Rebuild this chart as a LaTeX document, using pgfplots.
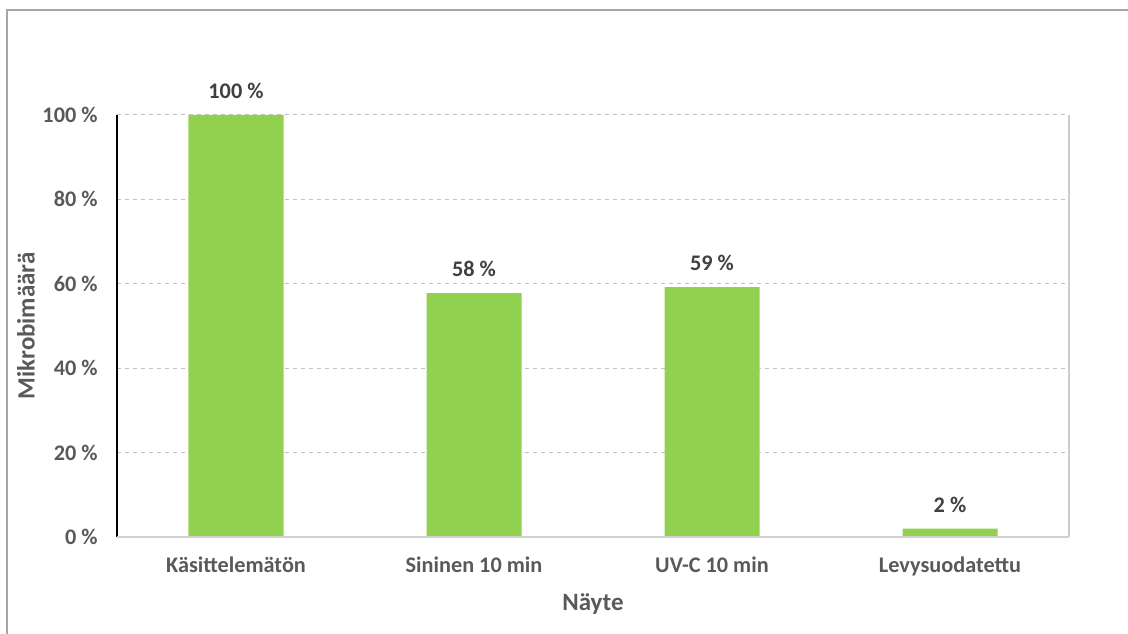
\documentclass[border=0pt]{standalone}
\usepackage{pgfplots}
\pgfplotsset{compat=1.18}
\usepackage{fontspec}
\setmainfont{Carlito}
\definecolor{barg}{HTML}{92D050}
\definecolor{txt}{HTML}{595959}
\definecolor{dtxt}{HTML}{404040}
\definecolor{gridc}{HTML}{BFBFBF}
\definecolor{framec}{HTML}{A6A6A6}
\begin{document}
\begin{tikzpicture}
\path[use as bounding box] (0,0) rectangle (846pt,475.5pt);
\draw[framec, line width=0.8pt] (5.25pt,0) -- (5.25pt,468pt) -- (846pt,468pt);
\begin{axis}[
  at={(87.75pt,72.75pt)}, anchor=south west,
  scale only axis, width=714pt, height=316.5pt,
  xmin=-0.5, xmax=3.5, ymin=0, ymax=100,
  ybar, bar width=71.25pt,
  axis line style={draw=none},
  tick style={draw=none},
  xtick={0,1,2,3},
  xticklabels={Käsittelemätön, Sininen 10 min, UV-C 10 min, Levysuodatettu},
  ytick={0,20,40,60,80,100},
  yticklabels={0 \%, 20 \%, 40 \%, 60 \%, 80 \%, 100 \%},
  ymajorgrids, grid style={gridc, dashed, line width=0.75pt},
  font=\fontsize{16.7}{19}\selectfont\bfseries,
  ticklabel style={text=txt},
  yticklabel style={xshift=-11pt},
  xticklabel style={yshift=-7pt},
  xlabel={Näyte}, ylabel={Mikrobimäärä},
  label style={text=txt, font=\fontsize{18.7}{21}\selectfont\bfseries},
  xlabel style={at={(axis description cs:0.5,-0.1588)}, anchor=center},
  ylabel style={at={(axis description cs:-0.0955,0.5)}, anchor=center, rotate=0},
  nodes near coords={\pgfmathprintnumber[fixed,precision=0,assume math mode=true]{\pgfplotspointmeta}~\%},
  nodes near coords style={text=dtxt, font=\fontsize{16.7}{19}\selectfont\bfseries, anchor=south, inner sep=0pt, yshift=12pt},
  clip=false,
]
\addplot[fill=barg, draw=none] coordinates {(0,100) (1,57.8) (2,59.2) (3,2)};
\draw[black, line width=0.9pt] (rel axis cs:0,0) -- (rel axis cs:0,1);
\draw[gridc!70, line width=1.2pt] (rel axis cs:0,0) -- (rel axis cs:1,0);
\draw[gridc!80, line width=1.2pt] (rel axis cs:1,0) -- (rel axis cs:1,1);
\end{axis}
\end{tikzpicture}
\end{document}
